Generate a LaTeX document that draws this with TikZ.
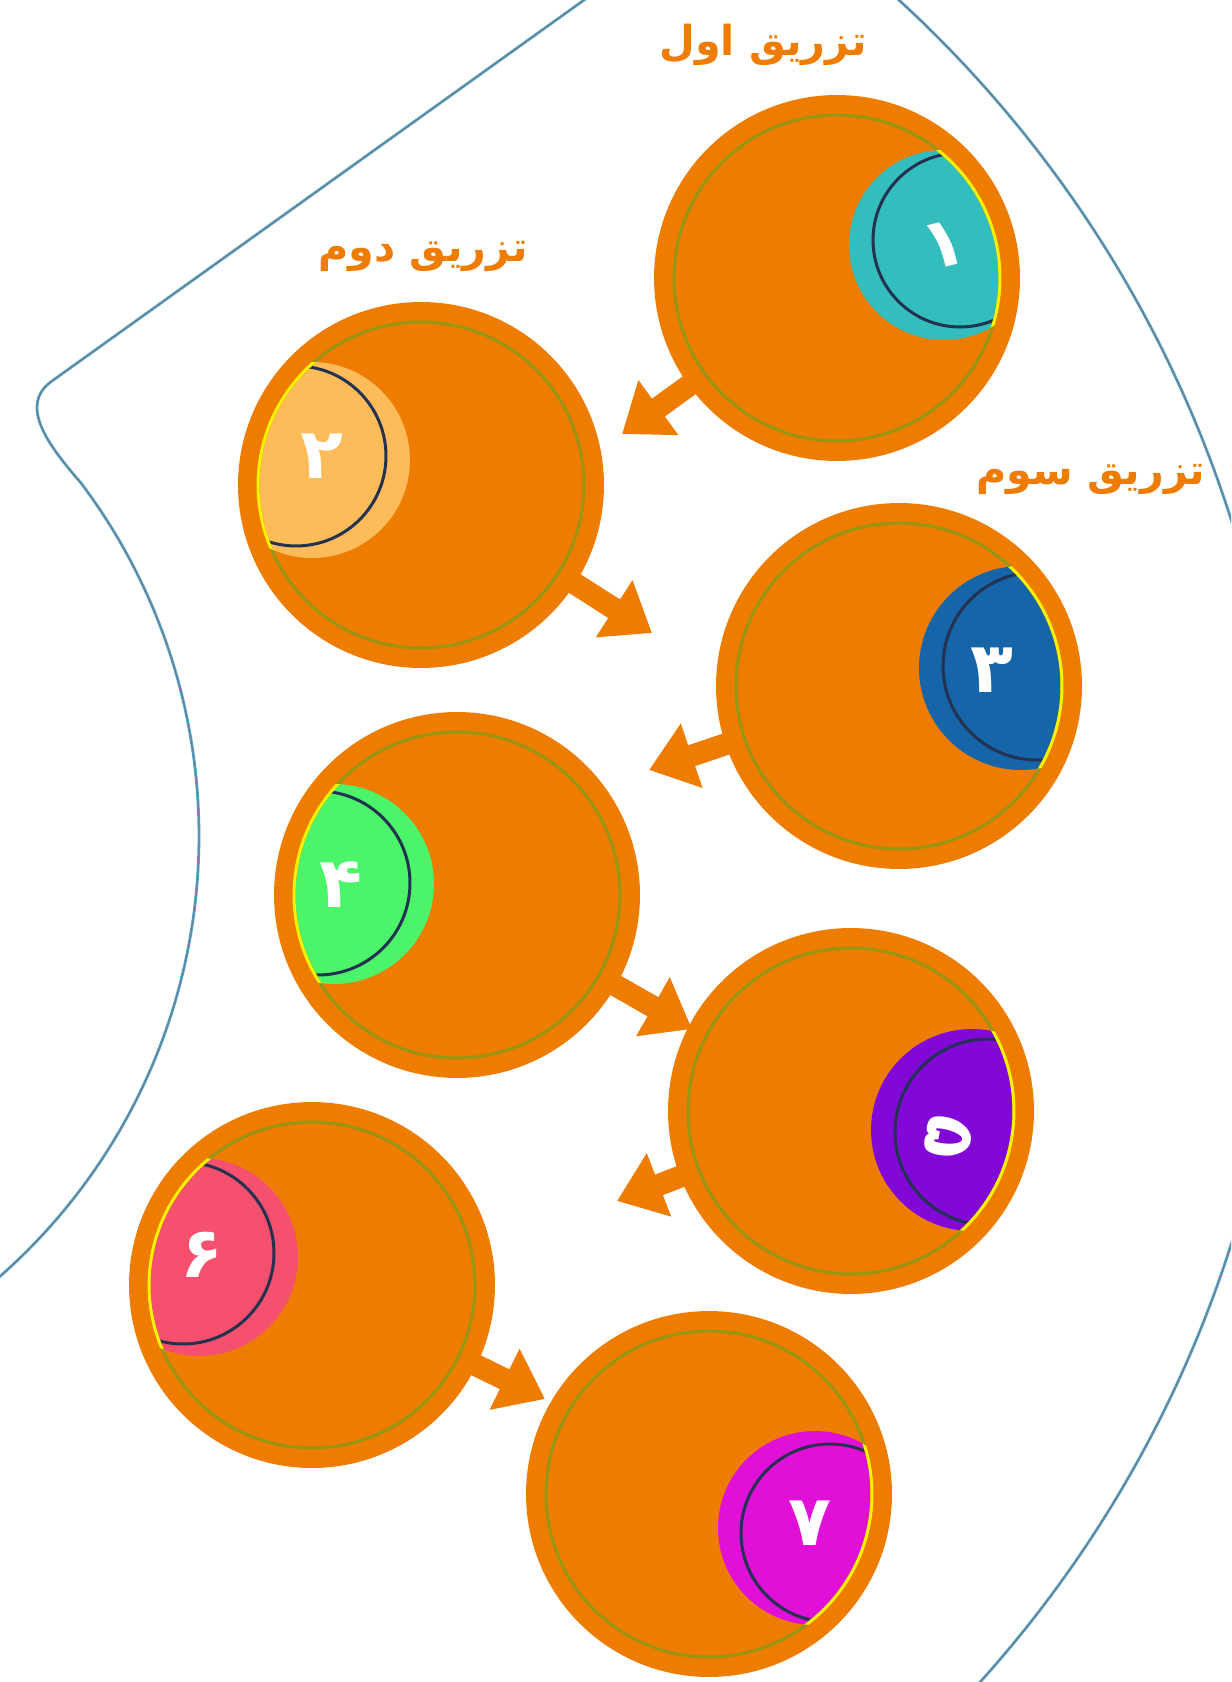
\documentclass[tikz,border=0pt]{standalone}
\usepackage{fontspec}
\usetikzlibrary{arrows.meta, calc}
\newfontfamily\arabicfont[Script=Arabic]{DejaVu Sans}
\TeXXeTstate=1

\definecolor{dropor}{RGB}{238,124,0}
\definecolor{edgeblue}{RGB}{80,165,205}
\definecolor{edgegrey}{RGB}{120,120,130}
\definecolor{rimdark}{RGB}{35,50,80}
\definecolor{ringolive}{RGB}{150,150,20}
\definecolor{ringyellow}{RGB}{250,240,0}
\definecolor{capone}{RGB}{51,189,189}
\definecolor{captwo}{RGB}{253,187,90}
\definecolor{capthree}{RGB}{21,101,168}
\definecolor{capfour}{RGB}{76,244,106}
\definecolor{capfive}{RGB}{130,8,216}
\definecolor{capsix}{RGB}{245,80,110}
\definecolor{capseven}{RGB}{224,16,216}

% coloured cap inside a disc: node, cap offset, cap radius, colour, rim offset
\newcommand{\capdisc}[5]{%
  \begin{scope}[shift={(#1.center)}]
    \begin{scope}
      \clip (0,0) circle (3.26cm);
      \fill[#4] (#2) circle (#3);
      \draw[rim] (#5) circle ({#3-0.16cm});
    \end{scope}
    \draw[ring] (0,0) circle (3.26cm);
    \begin{scope}
      \clip (#2) circle (#3);
      \draw[ringlit] (0,0) circle (3.26cm);
    \end{scope}
  \end{scope}}

\begin{document}
\begin{tikzpicture}[x=0.02cm, y=-0.02cm,
    disk/.style={circle, fill=dropor, minimum size=7.32cm, inner sep=0pt},
    ring/.style={draw=ringolive, line width=0.06cm},
    ringlit/.style={draw=ringyellow, line width=0.06cm},
    rim/.style={draw=rimdark, line width=0.06cm},
    flow/.style={draw=dropor, line width=0.44cm, -{Triangle[length=0.9cm, width=1.3cm]}, shorten <=-0.2cm},
    tag/.style={text=dropor, font=\arabicfont\bfseries\fontsize{23.5}{26}\selectfont},
    num/.style={text=white, font=\arabicfont\bfseries\fontsize{40}{42}\selectfont},
    edge/.style={draw=edgeblue, line width=1.6pt}]
        \useasboundingbox (0,0) rectangle (1231,1682);
        \clip (0,0) rectangle (1231,1682);

        % Outline
        \draw[edge] (612,-20) -- (52,381) .. controls (18,405) and (48,445) .. (81,483)
            arc[start angle=36.97, end angle=-60, radius=11.74cm];
        \draw[edge] (90.7,882) circle (23.93cm);
        \draw[edgegrey, line width=0.5pt] (612,-20) -- (52,381) .. controls (18,405) and (48,445) .. (81,483)
            arc[start angle=36.97, end angle=-60, radius=11.74cm];
        \draw[edgegrey, line width=0.5pt] (90.7,882) circle (23.93cm);

        % Discs
        \node[disk] (c1) at (837,278)  {};
        \node[disk] (c2) at (421,485)  {};
        \node[disk] (c3) at (899,686)  {};
        \node[disk] (c4) at (457,895)  {};
        \node[disk] (c5) at (851,1111) {};
        \node[disk] (c6) at (312,1285) {};
        \node[disk] (c7) at (709,1494) {};

        % Arrow tips
        \coordinate (t1) at (622,434);
        \coordinate (t2) at (652,633);
        \coordinate (t3) at (649,770);
        \coordinate (t4) at (692,1029);
        \coordinate (t5) at (617,1201);
        \coordinate (t6) at (545,1399);

        % Edges
        \draw[flow] (c1) -- (t1);
        \draw[flow] (c2) -- (t2);
        \draw[flow] (c3) -- (t3);
        \draw[flow] (c4) -- (t4);
        \draw[flow] (c5) -- (t5);
        \draw[flow] (c6) -- (t6);

        % Caps
        \capdisc{c1}{107,-33}{1.90cm}{capone}{123,-38}
        \capdisc{c2}{-109,-25}{1.96cm}{captwo}{-125,-29}
        \capdisc{c3}{122,-18}{2.04cm}{capthree}{138,-20}
        \capdisc{c4}{-123,-11}{2.00cm}{capfour}{-139,-12}
        \capdisc{c5}{121,19}{2.02cm}{capfive}{137,21}
        \capdisc{c6}{-113,-28}{1.98cm}{capsix}{-129,-32}
        \capdisc{c7}{106,34}{1.94cm}{capseven}{121,39}

        % Digits
        \node[num, rotate=14] (n1) at ($(c1)+(107,-33)$) {۱};
        \node[num] (n2) at ($(c2)+(-99,-29)$) {۲};
        \node[num] (n3) at ($(c3)+(93,-16)$) {۳};
        \node[num] (n4) at ($(c4)+(-116,-10)$) {۴};
        \node[num, rotate=-100] (n5) at ($(c5)+(98,26)$) {۵};
        \node[num] (n6) at ($(c6)+(-110,-30)$) {۶};
        \node[num] (n7) at ($(c7)+(101,29)$) {۷};

        % Labels
        \node[tag] (lbl1) at (763,45)  {\beginR تزریق اول\endR};
        \node[tag] (lbl2) at (423,257) {\beginR تزریق دوم\endR};
        \node[tag] (lbl3) at (1091,479) {\beginR تزریق سوم\endR};
\end{tikzpicture}
\end{document}
